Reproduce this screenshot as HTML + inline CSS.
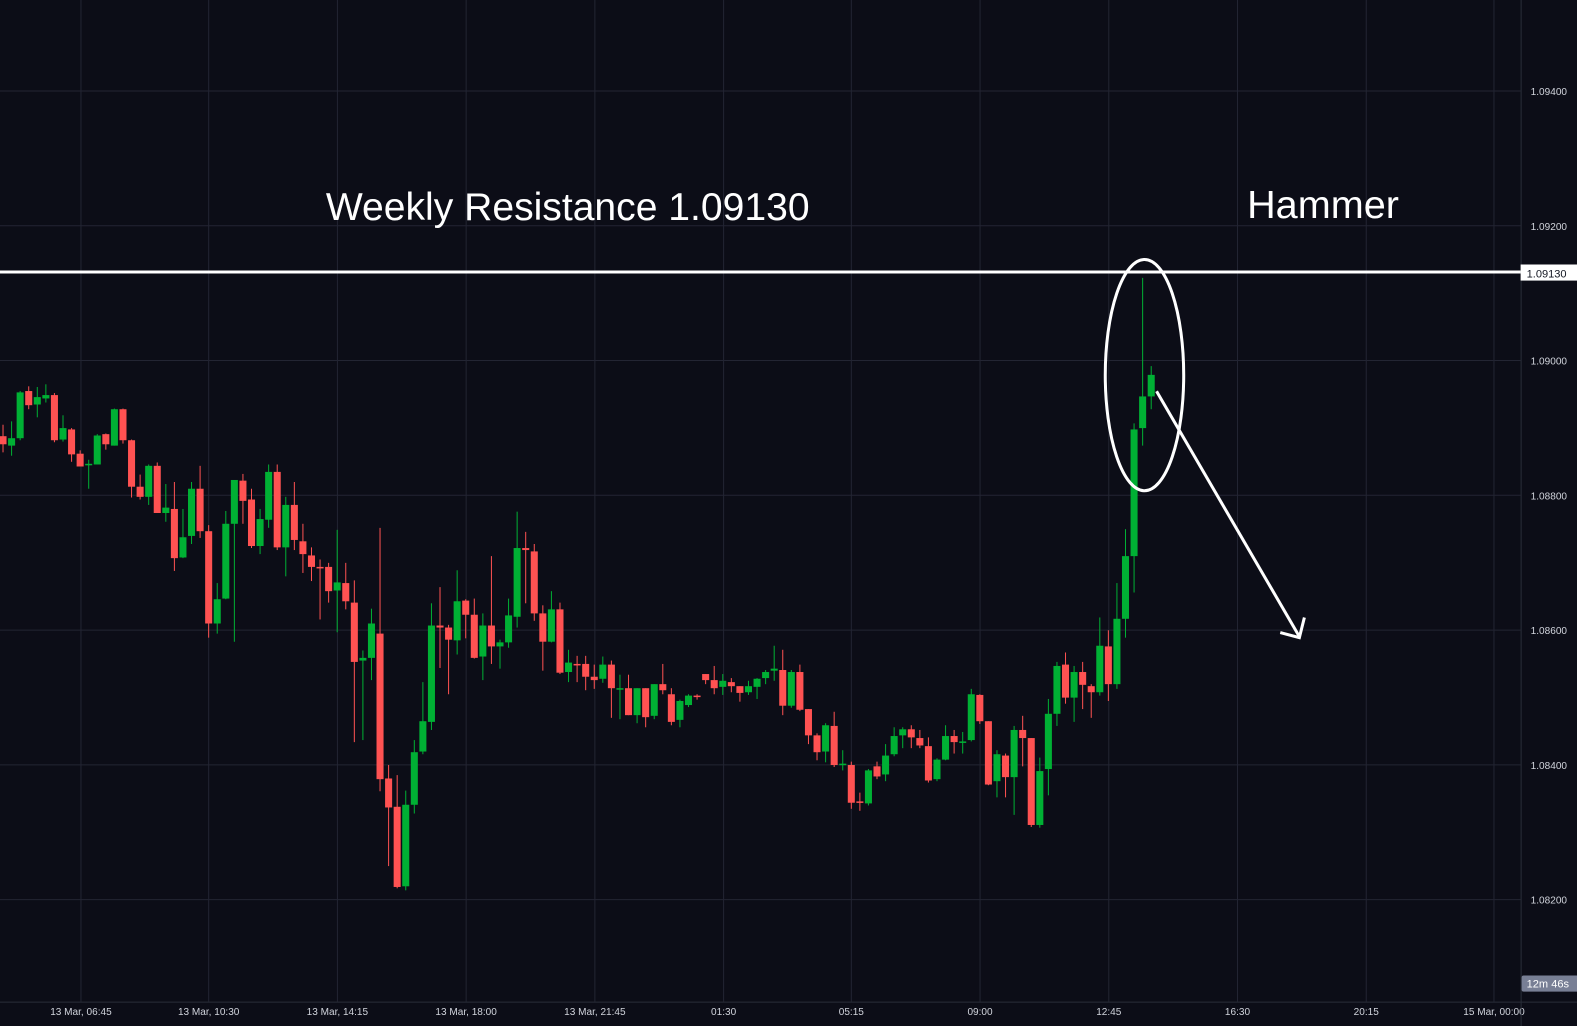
<!DOCTYPE html>
<html><head><meta charset="utf-8"><style>
html,body{margin:0;padding:0;background:#0c0d17;}
svg{display:block;font-family:"Liberation Sans",sans-serif;}
</style></head><body>
<svg id="chart" width="1577" height="1026" viewBox="0 0 1577 1026" xmlns="http://www.w3.org/2000/svg">
<rect x="0" y="0" width="1577" height="1026" fill="#0c0d17"/>
<g transform="scale(1.0057)">
<g id="grid"></g>
<g id="candles"></g>
<g id="axes"></g>
<line x1="0" y1="270.5" x2="1512" y2="270.5" stroke="#ffffff" stroke-width="3"/>
<rect x="1512" y="263" width="66" height="16" fill="#ffffff"/>
<text x="1518" y="276" font-size="11" fill="#131722">1.09130</text>
<text x="324" y="219" font-size="39" fill="#ffffff" textLength="481" lengthAdjust="spacingAndGlyphs">Weekly Resistance 1.09130</text>
<text x="1240" y="217" font-size="39" fill="#ffffff" textLength="151" lengthAdjust="spacingAndGlyphs">Hammer</text>
<ellipse cx="1138" cy="373" rx="39" ry="115" fill="none" stroke="#ffffff" stroke-width="3"/>
<line x1="1150" y1="389" x2="1292" y2="633" stroke="#ffffff" stroke-width="3"/>
<polyline points="1273,629 1292,634 1297,614" fill="none" stroke="#ffffff" stroke-width="3"/>
<rect x="1513" y="970" width="66" height="16" rx="2" fill="#787f95"/>
<text x="1518" y="982" font-size="11" fill="#ffffff">12m 46s</text>
</g>
</svg>
<script>
const opens=[1.08887,1.08873,1.08884,1.08954,1.08934,1.08943,1.08948,1.08882,1.08897,1.08861,1.08845,1.08845,1.08890,1.08873,1.08927,1.08881,1.08812,1.08797,1.08843,1.08773,1.08779,1.08707,1.08739,1.08809,1.08746,1.08609,1.08646,1.08757,1.08821,1.08793,1.08724,1.08763,1.08834,1.08722,1.08785,1.08731,1.08710,1.08693,1.08693,1.08658,1.08669,1.08640,1.08554,1.08558,1.08594,1.08379,1.08337,1.08219,1.08340,1.08419,1.08463,1.08606,1.08603,1.08584,1.08643,1.08622,1.08560,1.08606,1.08575,1.08581,1.08619,1.08721,1.08716,1.08624,1.08582,1.08630,1.08537,1.08549,1.08549,1.08530,1.08527,1.08548,1.08512,1.08513,1.08473,1.08513,1.08472,1.08519,1.08504,1.08466,1.08488,1.08502,1.08534,1.08525,1.08515,1.08522,1.08516,1.08507,1.08515,1.08528,1.08539,1.08540,1.08487,1.08537,1.08482,1.08443,1.08419,1.08457,1.08400,1.08399,1.08345,1.08342,1.08397,1.08385,1.08415,1.08443,1.08452,1.08439,1.08427,1.08378,1.08407,1.08442,1.08433,1.08436,1.08503,1.08464,1.08375,1.08413,1.08381,1.08451,1.08439,1.08310,1.08393,1.08475,1.08548,1.08499,1.08537,1.08516,1.08507,1.08575,1.08519,1.08616,1.08709,1.08899,1.08946];
const highs=[1.08904,1.08909,1.08954,1.08961,1.08960,1.08964,1.08951,1.08918,1.08899,1.08866,1.08852,1.08890,1.08891,1.08928,1.08928,1.08882,1.08830,1.08845,1.08848,1.08816,1.08819,1.08779,1.08819,1.08843,1.08755,1.08669,1.08776,1.08822,1.08831,1.08809,1.08779,1.08845,1.08845,1.08797,1.08819,1.08757,1.08722,1.08704,1.08699,1.08748,1.08699,1.08673,1.08569,1.08631,1.08751,1.08399,1.08384,1.08361,1.08436,1.08522,1.08639,1.08663,1.08607,1.08688,1.08645,1.08646,1.08624,1.08709,1.08585,1.08646,1.08775,1.08745,1.08727,1.08636,1.08657,1.08640,1.08570,1.08561,1.08561,1.08548,1.08560,1.08554,1.08533,1.08533,1.08513,1.08513,1.08519,1.08549,1.08513,1.08496,1.08504,1.08504,1.08534,1.08546,1.08534,1.08528,1.08516,1.08524,1.08528,1.08540,1.08576,1.08570,1.08540,1.08548,1.08482,1.08446,1.08461,1.08478,1.08421,1.08404,1.08358,1.08393,1.08404,1.08430,1.08455,1.08455,1.08458,1.08451,1.08440,1.08409,1.08458,1.08451,1.08448,1.08512,1.08504,1.08464,1.08421,1.08416,1.08457,1.08472,1.08439,1.08410,1.08497,1.08552,1.08566,1.08546,1.08552,1.08519,1.08618,1.08599,1.08669,1.08749,1.08906,1.09122,1.08991];
const lows=[1.08863,1.08858,1.08881,1.08927,1.08915,1.08937,1.08878,1.08879,1.08849,1.08842,1.08809,1.08845,1.08867,1.08873,1.08876,1.08796,1.08793,1.08785,1.08773,1.08760,1.08687,1.08706,1.08727,1.08736,1.08588,1.08594,1.08645,1.08582,1.08757,1.08721,1.08712,1.08751,1.08718,1.08679,1.08718,1.08684,1.08672,1.08615,1.08640,1.08596,1.08630,1.08433,1.08436,1.08525,1.08360,1.08249,1.08216,1.08213,1.08327,1.08415,1.08451,1.08543,1.08504,1.08563,1.08587,1.08557,1.08525,1.08549,1.08542,1.08573,1.08603,1.08639,1.08613,1.08539,1.08581,1.08534,1.08522,1.08522,1.08510,1.08512,1.08521,1.08469,1.08467,1.08473,1.08461,1.08455,1.08467,1.08504,1.08458,1.08455,1.08485,1.08496,1.08519,1.08504,1.08503,1.08507,1.08493,1.08503,1.08497,1.08519,1.08524,1.08473,1.08484,1.08479,1.08430,1.08406,1.08403,1.08396,1.08391,1.08334,1.08331,1.08339,1.08378,1.08375,1.08412,1.08424,1.08424,1.08424,1.08373,1.08375,1.08406,1.08416,1.08416,1.08434,1.08460,1.08369,1.08351,1.08351,1.08325,1.08397,1.08307,1.08306,1.08354,1.08457,1.08490,1.08463,1.08482,1.08469,1.08502,1.08494,1.08512,1.08588,1.08655,1.08873,1.08927];
const closes=[1.08875,1.08884,1.08952,1.08933,1.08945,1.08948,1.08881,1.08899,1.08860,1.08842,1.08846,1.08888,1.08875,1.08927,1.08881,1.08812,1.08797,1.08843,1.08773,1.08781,1.08706,1.08737,1.08809,1.08746,1.08609,1.08645,1.08757,1.08822,1.08791,1.08724,1.08764,1.08834,1.08722,1.08785,1.08733,1.08712,1.08693,1.08691,1.08657,1.08670,1.08642,1.08552,1.08558,1.08609,1.08378,1.08336,1.08218,1.08340,1.08418,1.08464,1.08606,1.08603,1.08585,1.08642,1.08622,1.08558,1.08606,1.08575,1.08581,1.08621,1.08721,1.08718,1.08624,1.08582,1.08630,1.08536,1.08551,1.08548,1.08530,1.08525,1.08548,1.08513,1.08513,1.08473,1.08513,1.08470,1.08519,1.08510,1.08463,1.08494,1.08502,1.08500,1.08525,1.08513,1.08524,1.08516,1.08506,1.08516,1.08527,1.08537,1.08542,1.08487,1.08537,1.08481,1.08443,1.08418,1.08458,1.08399,1.08401,1.08343,1.08343,1.08391,1.08382,1.08413,1.08442,1.08452,1.08440,1.08428,1.08376,1.08407,1.08442,1.08433,1.08434,1.08504,1.08464,1.08370,1.08415,1.08381,1.08451,1.08439,1.08310,1.08390,1.08475,1.08546,1.08499,1.08537,1.08518,1.08507,1.08576,1.08519,1.08616,1.08709,1.08897,1.08946,1.08978];
const priceTicks=[1.094,1.092,1.090,1.088,1.086,1.084,1.082];
const timeLabels=["13 Mar, 06:45","13 Mar, 10:30","13 Mar, 14:15","13 Mar, 18:00","13 Mar, 21:45","01:30","05:15","09:00","12:45","16:30","20:15","15 Mar, 00:00"];

const NS="http://www.w3.org/2000/svg";
function yOf(p){return 358-(p-1.090)*67000;}
const firstX=3, step=8.52;
function xOf(i){return firstX+i*step;}
function timeX(k){return xOf(9)+k*15*step;}
function mk(tag,attrs,parent){const e=document.createElementNS(NS,tag);for(const k in attrs)e.setAttribute(k,attrs[k]);parent.appendChild(e);return e;}
const grid=document.getElementById('grid'),cg=document.getElementById('candles'),ax=document.getElementById('axes');
priceTicks.forEach(p=>{const y=Math.round(yOf(p))+0.5;
 const l=mk('line',{x1:0,y1:y,x2:1512,y2:y,stroke:'#232533','stroke-width':1},grid);
 
 
 const t=mk('text',{x:1522,y:y+4,'font-size':10,fill:'#d1d4dc'},ax);t.textContent=p.toFixed(5);
 
 
});
timeLabels.forEach((s,k)=>{const x=Math.round(timeX(k))+0.5;
 const l=mk('line',{x1:x,y1:0,x2:x,y2:996,stroke:'#232533','stroke-width':1},grid);
 
 
 const t=mk('text',{x:x,y:1009,'font-size':10,fill:'#d1d4dc','text-anchor':'middle'},ax);t.textContent=s;
 
 
});
const vb=mk('line',{x1:1512.5,y1:0,x2:1512.5,y2:1030,stroke:'#2a2e39','stroke-width':1},ax);


const hb=mk('line',{x1:0,y1:996.5,x2:1580,y2:996.5,stroke:'#2a2e39','stroke-width':1},ax);


for(let i=0;i<opens.length;i++){
 const o=opens[i],h=highs[i],l=lows[i],c=closes[i];
 const up=c>=o, col=up?'#00b034':'#ff5252';
 const x=xOf(i);
 const w=mk('line',{x1:x,y1:yOf(h),x2:x,y2:yOf(l),stroke:col,'stroke-width':1},cg);
 
 
 const yt=yOf(Math.max(o,c)),yb=yOf(Math.min(o,c));
 const b=mk('rect',{x:x-3.5,y:yt,width:7,height:Math.max(1.5,yb-yt),fill:col},cg);
 
 
}
</script>
</body></html>
